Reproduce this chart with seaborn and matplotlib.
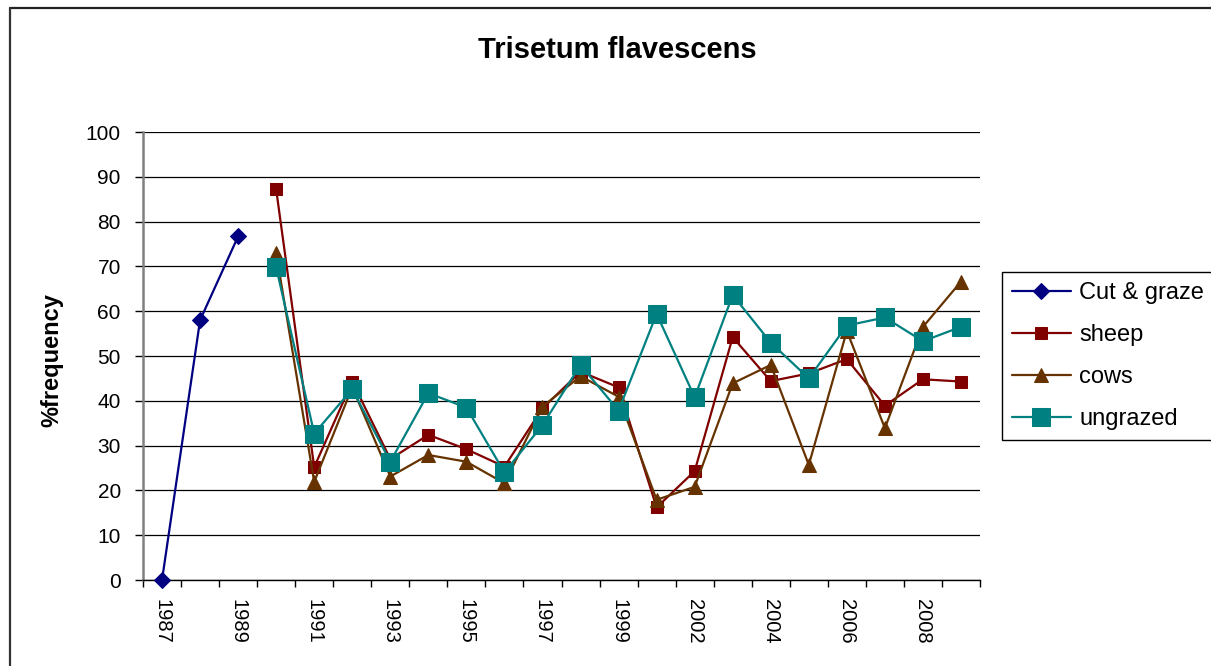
import numpy as np
import pandas as pd
import matplotlib
matplotlib.use("Agg")
import matplotlib.pyplot as plt
from matplotlib.lines import Line2D
import seaborn as sns

nan = np.nan

# Survey years (no survey in 2001)
years = ["1987", "1988", "1989", "1990", "1991", "1992", "1993", "1994",
         "1995", "1996", "1997", "1998", "1999", "2000", "2002", "2003",
         "2004", "2005", "2006", "2007", "2008", "2009"]

# % frequency of Trisetum flavescens per treatment
cut_graze = [0.0, 58.0, 76.7] + [nan] * 19
sheep = [nan] * 3 + [87.2, 25.2, 44.3, 27.0, 32.4, 29.2, 25.3, 38.3, 46.5,
                     43.0, 16.2, 24.3, 54.2, 44.4, 46.1, 49.3, 38.9, 44.8, 44.3]
cows = [nan] * 3 + [73.0, 21.9, 43.0, 23.1, 27.9, 26.4, 21.6, 38.7, 45.5,
                    40.9, 17.9, 20.8, 43.9, 48.0, 25.7, 55.6, 33.9, 56.5, 66.6]
ungrazed = [nan] * 3 + [69.8, 32.7, 42.6, 26.4, 41.7, 38.5, 24.0, 34.6, 48.0,
                        37.8, 59.4, 40.8, 63.6, 53.0, 45.0, 56.8, 58.6, 53.3, 56.5]

series_names = ["Cut & graze", "sheep", "cows", "ungrazed"]
series_values = [cut_graze, sheep, cows, ungrazed]

y_ticks = list(range(0, 101, 10))

# Line styles per treatment
styles = {
    "Cut & graze": dict(color="#000080", marker="D", markersize=8.5),
    "sheep": dict(color="#800000", marker="s", markersize=8.5),
    "cows": dict(color="#663300", marker="^", markersize=10),
    "ungrazed": dict(color="#008080", marker="s", markersize=13.5),
}

frames = []
for name, vals in zip(series_names, series_values):
    frames.append(pd.DataFrame({"pos": np.arange(len(years)),
                                "value": vals,
                                "series": name}))
df = pd.concat(frames, ignore_index=True).dropna()

sns.set_style("white")
plt.rcParams["font.family"] = ["Liberation Sans", "DejaVu Sans"]
plt.rcParams["text.color"] = "black"
plt.rcParams["axes.labelcolor"] = "black"
plt.rcParams["xtick.color"] = "black"
plt.rcParams["ytick.color"] = "black"

W, H = 1211, 666
fig = plt.figure(figsize=(W / 100, H / 100), dpi=100)
fig.patch.set_facecolor("white")
ax = fig.add_axes([143 / W, 86 / H, 837 / W, 448 / H])

for name in series_names:
    st = styles[name]
    sub = df[df["series"] == name]
    sns.lineplot(data=sub, x="pos", y="value", ax=ax, errorbar=None,
                 sort=False, color=st["color"], marker=st["marker"],
                 markersize=st["markersize"], markeredgecolor=st["color"],
                 markerfacecolor=st["color"], linewidth=1.6, label=name,
                 clip_on=False, zorder=3)

# Axes limits and ticks
ax.set_xlim(-0.5, len(years) - 0.5)
ax.set_ylim(0, 100)
ax.set_yticks(y_ticks)
ax.set_yticklabels([str(t) for t in y_ticks], fontsize=15)
ax.set_xticks(np.arange(0, len(years), 2))
ax.set_xticklabels(years[::2], rotation=-90, fontsize=14.5, va="top", ha="center")
ax.set_xticks(np.arange(-0.5, len(years), 1), minor=True)
ax.tick_params(axis="x", which="major", length=0, pad=14)
ax.tick_params(axis="x", which="minor", length=5, width=1, color="black",
               direction="out", bottom=True)
ax.tick_params(axis="y", which="major", length=6, width=1, color="black",
               direction="out", left=True, pad=10)

ax.set_xlabel("")
ax.set_ylabel("%frequency", fontsize=17, fontweight="bold")
ax.yaxis.set_label_coords(-0.0956, 0.49)

# Horizontal gridlines
ax.yaxis.grid(True, color="black", linewidth=0.9)
ax.xaxis.grid(False)
ax.set_axisbelow(True)

for side in ("top", "right"):
    ax.spines[side].set_visible(False)
ax.spines["left"].set_color("#808080")
ax.spines["left"].set_linewidth(1.8)
ax.spines["bottom"].set_color("black")
ax.spines["bottom"].set_linewidth(1.0)

# Title
fig.text(617 / W, 1 - 50 / H, "Trisetum flavescens", fontsize=21,
         fontweight="bold", ha="center", va="center")

# Legend
if ax.legend_:
    ax.legend_.remove()
handles, labels = ax.get_legend_handles_labels()
leg = fig.legend(handles, labels, loc="upper left",
                 bbox_to_anchor=(1002 / W, 1 - 272 / H),
                 bbox_transform=fig.transFigure, fontsize=17,
                 frameon=True, fancybox=False, framealpha=1,
                 edgecolor="black", handlelength=2.5, handletextpad=0.35,
                 labelspacing=0.85, borderpad=0.42, borderaxespad=0)
leg.get_frame().set_linewidth(1.0)

# Chart-area border (top and left edges)
fig.add_artist(Line2D([10 / W, 1], [1 - 8 / H, 1 - 8 / H],
                      transform=fig.transFigure, color="#222222", linewidth=1.6))
fig.add_artist(Line2D([10 / W, 10 / W], [0, 1 - 8 / H],
                      transform=fig.transFigure, color="#333333", linewidth=1.6))

fig.savefig("out.png", dpi=100)
